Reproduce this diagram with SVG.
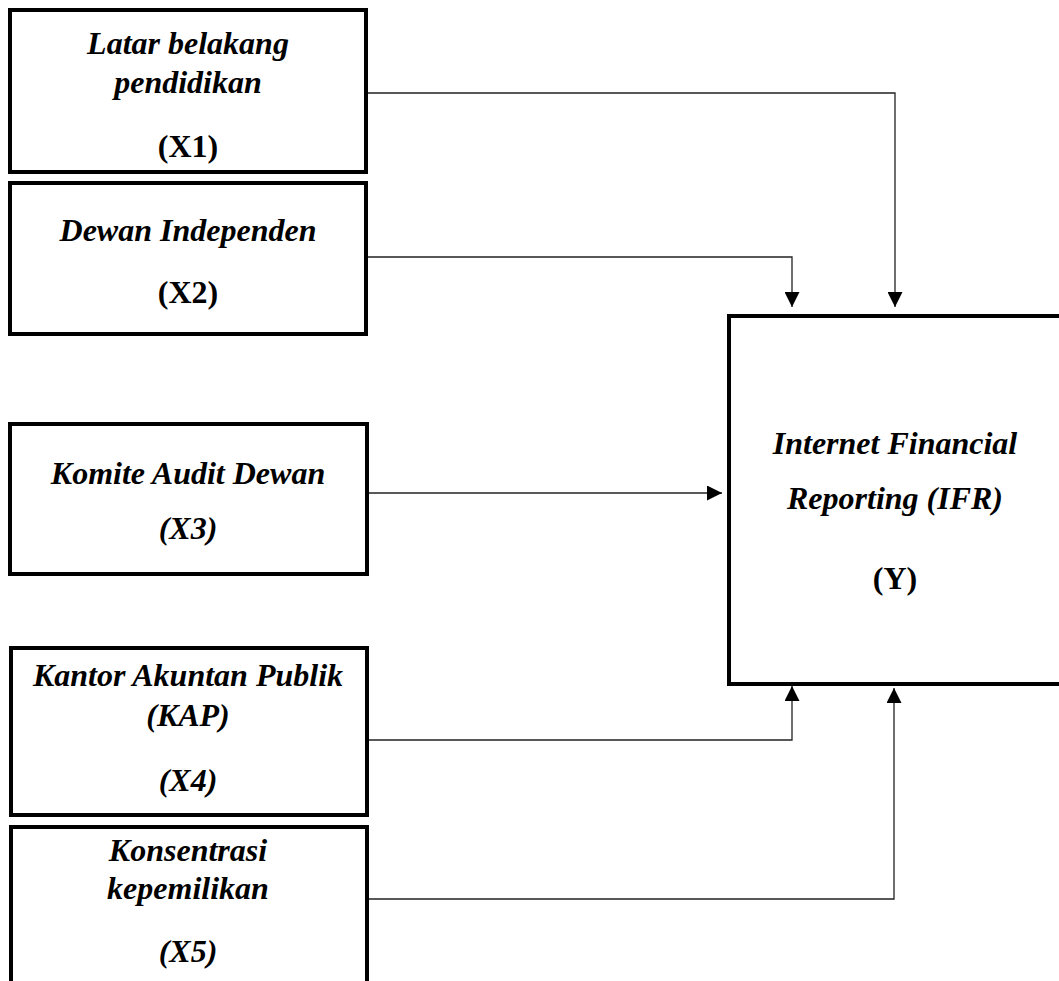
<svg xmlns="http://www.w3.org/2000/svg" width="1059" height="981" viewBox="0 0 1059 981">
<style>
.box{fill:#fff;stroke:#000;stroke-width:4}
.t{font-family:"Liberation Serif","Times New Roman",serif;font-size:32px;font-weight:bold;font-style:italic;text-anchor:middle;fill:#000}
.n{font-style:normal}
.c{fill:none;stroke:#222;stroke-width:1.3}
</style>
<defs>
<marker id="ah" viewBox="0 0 15 15" refX="15" refY="7.5" markerWidth="15" markerHeight="15" orient="auto" markerUnits="userSpaceOnUse">
<path d="M0,0 L15,7.5 L0,15 Z" fill="#000"/>
</marker>
</defs>
<rect width="1059" height="981" fill="#fff"/>
<g id="connectors">
<path class="c" d="M368,93 H895 V307" marker-end="url(#ah)"/>
<path class="c" d="M368,257 H792 V307" marker-end="url(#ah)"/>
<path class="c" d="M368,493 H722" marker-end="url(#ah)"/>
<path class="c" d="M368,740 H792 V686" marker-end="url(#ah)"/>
<path class="c" d="M368,899 H894 V688" marker-end="url(#ah)"/>
</g>
<g id="x1">
<rect class="box" x="10" y="10" width="356" height="162"/>
<text class="t" x="188" y="54">Latar belakang</text>
<text class="t" x="188" y="93">pendidikan</text>
<text class="t n" x="188" y="157">(X1)</text>
</g>
<g id="x2">
<rect class="box" x="10" y="183" width="356" height="151"/>
<text class="t" x="188" y="241">Dewan Independen</text>
<text class="t n" x="188" y="303">(X2)</text>
</g>
<g id="x3">
<rect class="box" x="10" y="424" width="357" height="150"/>
<text class="t" x="188" y="484">Komite Audit Dewan</text>
<text class="t" x="188" y="539">(X3)</text>
</g>
<g id="x4">
<rect class="box" x="11" y="648" width="356" height="167"/>
<text class="t" x="188" y="686">Kantor Akuntan Publik</text>
<text class="t" x="188" y="726">(KAP)</text>
<text class="t" x="188" y="791">(X4)</text>
</g>
<g id="x5">
<rect class="box" x="11" y="827" width="356" height="200"/>
<text class="t" x="188" y="861">Konsentrasi</text>
<text class="t" x="188" y="899">kepemilikan</text>
<text class="t" x="188" y="962">(X5)</text>
</g>
<g id="y">
<rect class="box" x="729" y="316" width="360" height="368"/>
<text class="t" x="895" y="454">Internet Financial</text>
<text class="t" x="895" y="509">Reporting (IFR)</text>
<text class="t n" x="895" y="589">(Y)</text>
</g>
</svg>
